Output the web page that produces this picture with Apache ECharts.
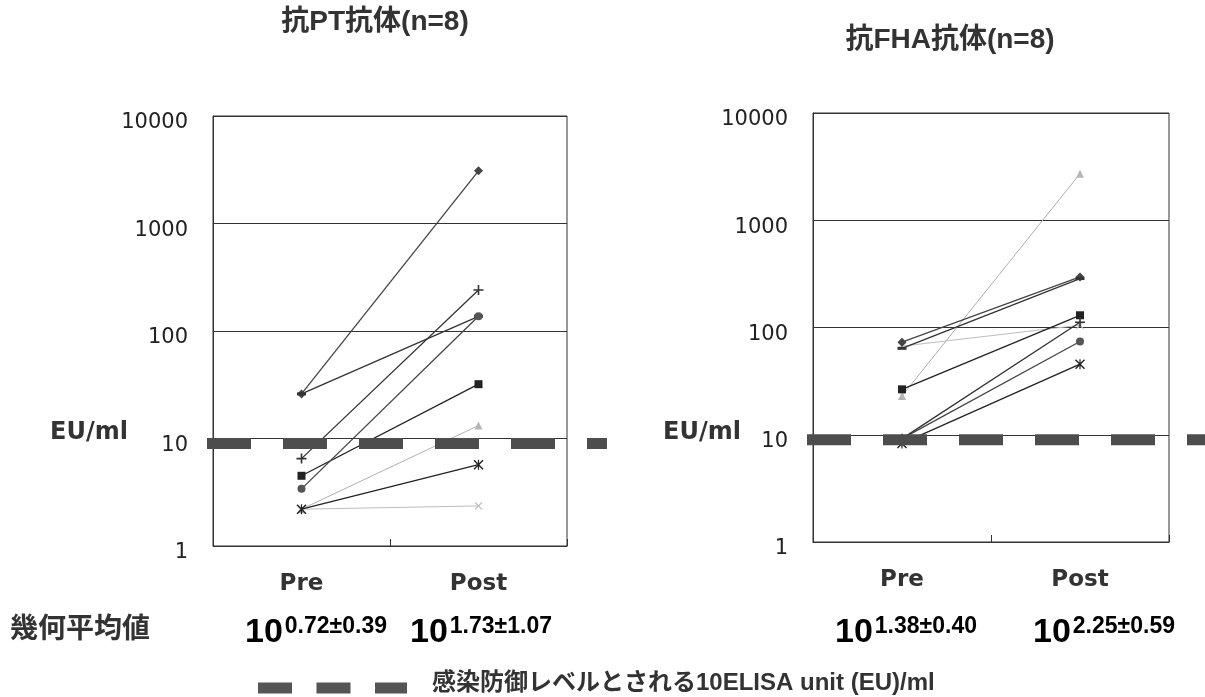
<!DOCTYPE html>
<html>
<head>
<meta charset="utf-8">
<script src="https://cdn.jsdelivr.net/npm/echarts@6/dist/echarts.min.js"></script>
<style>
html,body{margin:0;padding:0;background:#fff;}
#c{width:1205px;height:697px;}
</style>
</head>
<body>
<div id="c"></div>
<script>
// ---- data ----
const categories = ['Pre', 'Post'];
const seriesNames = ['s1', 's2', 's3', 's4', 's5', 's6', 's7', 's8'];
const ptPre   = [26, 26, 4.5, 2.2, 2.2, 2.2, 3.4, 6.5];
const ptPost  = [3090, 137, 32, 13.2, 2.36, 5.7, 137, 241];
const fhaPre  = [73, 64, 26.5, 23, 67, 8.3, 9.2, 9.2];
const fhaPost = [296, 286, 130, 2720, 105, 45.5, 74, 112];
const threshold = 10;
const titles = ['抗PT抗体(n=8)', '抗FHA抗体(n=8)'];
const unitLabel = 'EU/ml';
const meanLabel = '幾何平均値';
const meanExps = ['0.72±0.39', '1.73±1.07', '1.38±0.40', '2.25±0.59'];
const legendText = '感染防御レベルとされる10ELISA unit (EU)/ml';

// ---- styles ----
const plusPath = 'path://M4.2,0H5.8V4.2H10V5.8H5.8V10H4.2V5.8H0V4.2H4.2Z';
const xPath = 'path://M1,0L5,4L9,0L10,1L6,5L10,9L9,10L5,6L1,10L0,9L4,5L0,1Z';
const astPath = 'path://M1,0L5,4L9,0L10,1L6,5L10,9L9,10L5,6L1,10L0,9L4,5L0,1Z M4.4,0H5.6V10H4.4Z';
const markerStyles = [
  {symbol: 'diamond', size: 9, color: '#444', line: '#444', width: 1.3},
  {symbol: 'rect', size: [9, 3], color: '#333', line: '#333', width: 1.3},
  {symbol: 'rect', size: 8, color: '#222', line: '#222', width: 1.3},
  {symbol: 'triangle', size: 8, color: '#b5b5b5', line: '#b0b0b0', width: 1},
  {symbol: xPath, size: 8, color: '#bdbdbd', line: '#bdbdbd', width: 1},
  {symbol: astPath, size: 10, color: '#222', line: '#222', width: 1.3},
  {symbol: 'circle', size: 8, color: '#555', line: '#444', width: 1.3},
  {symbol: plusPath, size: 10, color: '#333', line: '#333', width: 1.3}
];

const LATIN = '"Liberation Sans", "Noto Sans CJK JP", sans-serif';
const WIDE = '"DejaVu Sans", "Noto Sans CJK JP", sans-serif';

const chart = echarts.init(document.getElementById('c'));

function makeX(gi) {
  return {
    type: 'category', gridIndex: gi, data: categories, boundaryGap: true,
    axisLine: {show: true, lineStyle: {color: '#333', width: 1}},
    axisTick: {show: true, inside: true, length: 7, lineStyle: {color: '#333'}},
    axisLabel: {fontFamily: WIDE, fontWeight: 'bold', fontSize: 23, color: '#333', margin: 27},
    splitLine: {show: false}
  };
}
function makeY(gi) {
  return {
    type: 'log', logBase: 10, min: 1, max: 10000, gridIndex: gi,
    axisLine: {show: true, lineStyle: {color: '#333', width: 1}},
    axisTick: {show: false},
    axisLabel: {
      fontFamily: WIDE, fontSize: 21, color: '#222', margin: 25,
      formatter: function (v) { return '{v|' + String(Math.round(v)) + '}'; },
      rich: {v: {fontFamily: WIDE, fontSize: 21, color: '#222', padding: [14, 0, 0, 0]}}
    },
    splitLine: {show: true, lineStyle: {color: '#333', width: 1}}
  };
}

const series = [];
function addGroup(gi, pre, post) {
  seriesNames.forEach((n, i) => {
    const st = markerStyles[i];
    series.push({
      name: n + '_' + gi, type: 'line', xAxisIndex: gi, yAxisIndex: gi,
      data: [pre[i], post[i]],
      symbol: st.symbol, symbolSize: st.size,
      itemStyle: {color: st.color},
      lineStyle: {color: st.line, width: st.width},
      z: i === 3 || i === 4 ? 2 : 3,
      animation: false
    });
  });
  series.push({
    type: 'custom', xAxisIndex: gi, yAxisIndex: gi, clip: false, z: 5,
    data: [[0, threshold]], silent: true, animation: false,
    renderItem: function (params, api) {
      const cs = params.coordSys;
      const y = api.coord([0, api.value(1)])[1] + 5;
      return {
        type: 'line',
        shape: {x1: cs.x - 6, y1: y, x2: cs.x + cs.width + 40, y2: y},
        style: {stroke: '#4d4d4d', lineWidth: 11, lineDash: [44, 32]}
      };
    }
  });
}
addGroup(0, ptPre, ptPost);
addGroup(1, fhaPre, fhaPost);

function meanText(x, exp) {
  return {
    type: 'text', x: x, y: 610,
    style: {
      text: '{a|10}{b|' + exp + '}',
      verticalAlign: 'top', align: 'left',
      rich: {
        a: {fontFamily: LATIN, fontWeight: 'bold', fontSize: 34, lineHeight: 40, color: '#333', verticalAlign: 'bottom'},
        b: {fontFamily: LATIN, fontWeight: 'bold', fontSize: 23, lineHeight: 20, color: '#333', verticalAlign: 'top', padding: [5, 0, 0, 2]}
      }
    }
  };
}

const option = {
  backgroundColor: '#fff',
  animation: false,
  grid: [
    {left: 213, top: 116, width: 354, height: 430, show: true, borderColor: '#333', borderWidth: 1, containLabel: false},
    {left: 813, top: 113, width: 356, height: 429, show: true, borderColor: '#333', borderWidth: 1, containLabel: false}
  ],
  xAxis: [makeX(0), makeX(1)],
  yAxis: [makeY(0), makeY(1)],
  series: series,
  graphic: [
    {type: 'text', x: 375, y: 22, style: {text: titles[0], align: 'center', verticalAlign: 'middle', fontFamily: LATIN, fontWeight: 'bold', fontSize: 28, fill: '#333'}},
    {type: 'text', x: 950, y: 40, style: {text: titles[1], align: 'center', verticalAlign: 'middle', fontFamily: LATIN, fontWeight: 'bold', fontSize: 28, fill: '#333'}},
    {type: 'text', x: 50, y: 433, style: {text: unitLabel, align: 'left', verticalAlign: 'middle', fontFamily: WIDE, fontWeight: 'bold', fontSize: 24, fill: '#333'}},
    {type: 'text', x: 663, y: 433, style: {text: unitLabel, align: 'left', verticalAlign: 'middle', fontFamily: WIDE, fontWeight: 'bold', fontSize: 24, fill: '#333'}},
    {type: 'text', x: 10, y: 630, style: {text: meanLabel, align: 'left', verticalAlign: 'middle', fontFamily: LATIN, fontWeight: 'bold', fontSize: 28, fill: '#333'}},
    meanText(245, meanExps[0]),
    meanText(410, meanExps[1]),
    meanText(835, meanExps[2]),
    meanText(1033, meanExps[3]),
    {type: 'line', shape: {x1: 258, y1: 688, x2: 407, y2: 688}, style: {stroke: '#555', lineWidth: 11, lineDash: [34, 24.5]}},
    {type: 'text', x: 432, y: 683, style: {text: legendText, align: 'left', verticalAlign: 'middle', fontFamily: LATIN, fontWeight: 'bold', fontSize: 24, fill: '#333'}}
  ]
};
chart.setOption(option);
</script>
</body>
</html>
